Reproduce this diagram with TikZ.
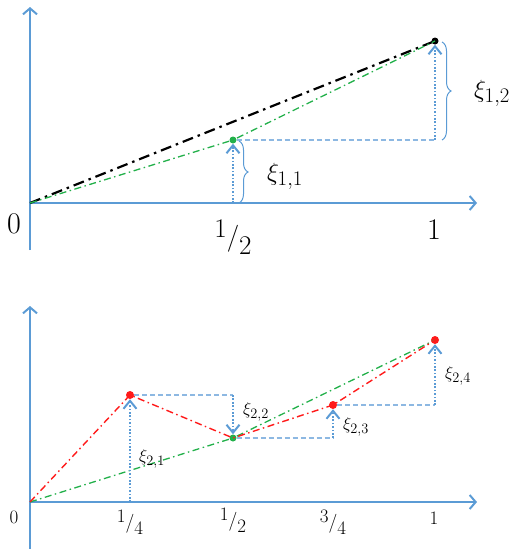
\documentclass[tikz,border=0pt]{standalone}
\usetikzlibrary{arrows.meta,decorations.pathreplacing}
\definecolor{axblue}{HTML}{5B9BD5}
\definecolor{ltblue}{HTML}{8DB8E2}
\definecolor{dgreen}{HTML}{22B04A}
\definecolor{dred}{HTML}{FF1A1A}
\newcommand{\myfrac}[2]{\raisebox{0.3em}{#1}/\raisebox{-0.32em}{#2}}
\tikzset{
  axis/.style={draw=axblue, line width=2pt, -{Straight Barb[length=6pt,width=14pt]}},
  dotarrow/.style={draw=axblue, line width=2pt, dash pattern=on 1.7pt off 1.7pt,
     -{Straight Barb[length=8pt,width=13pt,line width=2pt]}},
  dashline/.style={draw=ltblue, line width=1.4pt, dash pattern=on 5pt off 3pt},
  blackdd/.style={draw=black, line width=2.2pt, dash pattern=on 11pt off 5pt on 2.5pt off 5pt},
  greendd/.style={draw=dgreen, line width=1.3pt, dash pattern=on 7pt off 3.5pt on 1.5pt off 3.5pt},
  reddd/.style={draw=dred, line width=1.4pt, dash pattern=on 7pt off 3.5pt on 1.5pt off 3.5pt},
  dotg/.style={circle, fill=dgreen, inner sep=0pt, minimum size=7pt},
  dotk/.style={circle, fill=black, inner sep=0pt, minimum size=7pt},
  dotr/.style={circle, fill=dred, inner sep=0pt, minimum size=8pt},
  bracestyle/.style={draw=axblue, line width=1pt, decorate, decoration={brace, amplitude=9pt}},
  lblbig/.style={inner sep=0pt, font=\fontsize{30}{34}\selectfont},
  lblsmall/.style={inner sep=0pt, font=\fontsize{19}{23}\selectfont},
}
\begin{document}
\begin{tikzpicture}[x=1pt,y=-1pt]
\useasboundingbox (0,0) rectangle (515,549);
% ---------- top panel ----------
\coordinate (o1) at (30,203);
\coordinate (y1t) at (30,7);
\coordinate (y1b) at (30,250);
\coordinate (x1r) at (477,203);
\coordinate (h1) at (233,203);
\coordinate (q1) at (435,140);
\draw[axis] (y1b) -- (y1t);
\draw[axis] (o1) -- (x1r);
\node[dotg] (g1) at (233,140) {};
\node[dotk] (b1) at (435,41) {};
\draw[blackdd] (o1) -- (b1.center);
\draw[greendd] (o1) -- (g1.center) -- (b1.center);
\draw[dotarrow] (h1) -- (g1.south);
\draw[dashline] (g1.east) -- (q1);
\draw[dotarrow] (q1) -- (b1.south);
\coordinate (br1a) at (239,141);
\coordinate (br1b) at (239,203);
\coordinate (br2a) at (442,42);
\coordinate (br2b) at (442,140);
\draw[bracestyle] (br1a) -- (br1b);
\draw[bracestyle] (br2a) -- (br2b);
\node[lblbig] (xi11) at (285,176) {$\xi_{1,1}$};
\node[lblbig] (xi12) at (492,93) {$\xi_{1,2}$};
\node[lblbig] (t10) at (14,224) {0};
\node[lblbig, font=\fontsize{27}{31}\selectfont] (t1h) at (233,237) {\myfrac{1}{2}};
\node[lblbig] (t11) at (434,230) {1};
% ---------- bottom panel ----------
\coordinate (o2) at (30,502);
\coordinate (y2t) at (30,306);
\coordinate (y2b) at (30,552);
\coordinate (x2r) at (477,502);
\coordinate (xh2) at (233,502);
\coordinate (a1) at (130,502);
\coordinate (a2) at (233,395);
\coordinate (a3) at (333,438);
\coordinate (a4) at (435,405);
\draw[axis] (y2b) -- (y2t);
\draw[axis] (o2) -- (x2r);
\draw[draw=axblue, line width=2.8pt] (o2) -- (xh2);
\node[dotr] (r1) at (130,395) {};
\node[dotg] (g2) at (233,438) {};
\node[dotr] (r3) at (333,405) {};
\node[dotr] (r4) at (435,340) {};
\draw[greendd] (o2) -- (g2.center) -- (r4.center);
\draw[reddd] (o2) -- (r1.center) -- (g2.center) -- (r3.center) -- (r4.center);
\draw[dotarrow] (a1) -- (r1.south);
\draw[dashline] (r1.east) -- (a2);
\draw[dotarrow] (a2) -- (g2.north);
\draw[dashline] (g2.east) -- (a3);
\draw[dotarrow] (a3) -- (r3.south);
\draw[dashline] (r3.east) -- (a4);
\draw[dotarrow] (a4) -- (r4.south);
\node[lblsmall] (xi21) at (152,459) {$\xi_{2,1}$};
\node[lblsmall] (xi22) at (256,412) {$\xi_{2,2}$};
\node[lblsmall] (xi23) at (356,427) {$\xi_{2,3}$};
\node[lblsmall] (xi24) at (458,376) {$\xi_{2,4}$};
\node[lblsmall] (t20) at (14,517) {0};
\node[lblsmall] (t2q) at (130,522) {\myfrac{1}{4}};
\node[lblsmall] (t2h) at (233,520) {\myfrac{1}{2}};
\node[lblsmall] (t2t) at (333,522) {\myfrac{3}{4}};
\node[lblsmall] (t21) at (434,518) {1};
\end{tikzpicture}
\end{document}
